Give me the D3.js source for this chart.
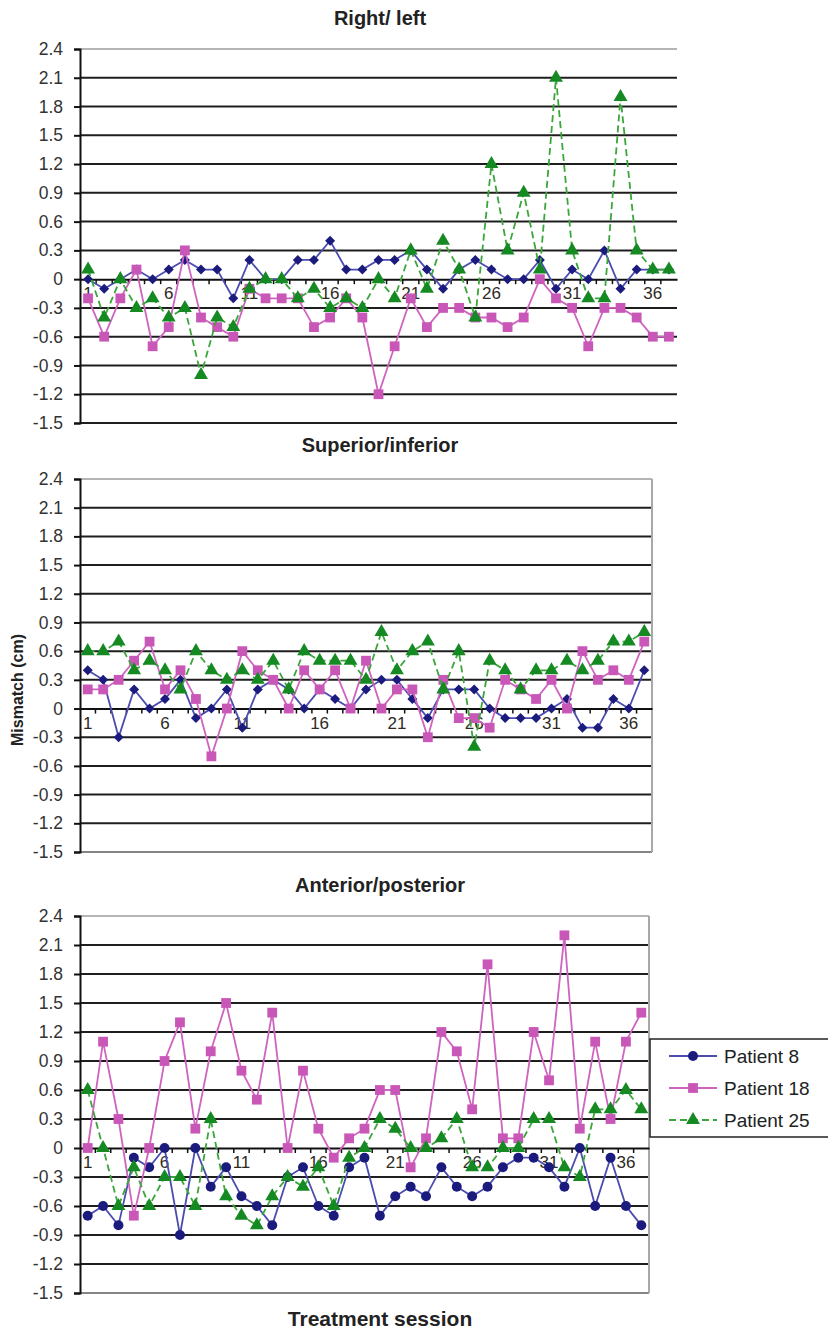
<!DOCTYPE html>
<html>
<head>
<meta charset="utf-8">
<script src="https://cdn.jsdelivr.net/npm/d3@7"></script>
<style>
  html, body { margin: 0; padding: 0; background: #fff; }
  svg { display: block; font-family: "Liberation Sans", Arial, sans-serif; }
</style>
</head>
<body>
<svg id="chart" width="828" height="1334"></svg>
<script>
// ---------- data ----------
const sessions = d3.range(1, 38);
const yTicks = [2.4, 2.1, 1.8, 1.5, 1.2, 0.9, 0.6, 0.3, 0, -0.3, -0.6, -0.9, -1.2, -1.5];
const xTickLabels = [1, 6, 11, 16, 21, 26, 31, 36];
const seriesNames = ["Patient 8", "Patient 18", "Patient 25"];
const panelTitles = ["Right/ left", "Superior/inferior", "Anterior/posterior"];

// Right / left
const rlPatient8  = [0,-0.1,0,0.1,0,0.1,0.2,0.1,0.1,-0.2,0.2,0,0,0.2,0.2,0.4,0.1,0.1,0.2,0.2,0.3,0.1,-0.1,0.1,0.2,0.1,0,0,0.2,-0.1,0.1,0,0.3,-0.1,0.1,0.1,0.1];
const rlPatient18 = [-0.2,-0.6,-0.2,0.1,-0.7,-0.5,0.3,-0.4,-0.5,-0.6,-0.1,-0.2,-0.2,-0.2,-0.5,-0.4,-0.2,-0.4,-1.2,-0.7,-0.2,-0.5,-0.3,-0.3,-0.4,-0.4,-0.5,-0.4,0,-0.2,-0.3,-0.7,-0.3,-0.3,-0.4,-0.6,-0.6];
const rlPatient25 = [0.1,-0.4,0,-0.3,-0.2,-0.4,-0.3,-1.0,-0.4,-0.5,-0.1,0,0,-0.2,-0.1,-0.3,-0.2,-0.3,0,-0.2,0.3,-0.1,0.4,0.1,-0.4,1.2,0.3,0.9,0.1,2.1,0.3,-0.2,-0.2,1.9,0.3,0.1,0.1];

// Superior / inferior
const siPatient8  = [0.4,0.3,-0.3,0.2,0,0.1,0.3,-0.1,0,0.2,-0.2,0.2,0.3,0.2,0,0.2,0.1,0,0.2,0.3,0.3,0.1,-0.1,0.2,0.2,0.2,0,-0.1,-0.1,-0.1,0,0.1,-0.2,-0.2,0.1,0,0.4];
const siPatient18 = [0.2,0.2,0.3,0.5,0.7,0.2,0.4,0.1,-0.5,0,0.6,0.4,0.3,0,0.4,0.2,0.4,0,0.5,0,0.2,0.2,-0.3,0.3,-0.1,-0.1,-0.2,0.3,0.2,0.1,0.3,0,0.6,0.3,0.4,0.3,0.7];
const siPatient25 = [0.6,0.6,0.7,0.4,0.5,0.4,0.2,0.6,0.4,0.3,0.4,0.3,0.5,0.2,0.6,0.5,0.5,0.5,0.3,0.8,0.4,0.6,0.7,0.2,0.6,-0.4,0.5,0.4,0.2,0.4,0.4,0.5,0.4,0.5,0.7,0.7,0.8];

// Anterior / posterior
const apPatient8  = [-0.7,-0.6,-0.8,-0.1,-0.2,0,-0.9,0,-0.4,-0.2,-0.5,-0.6,-0.8,-0.3,-0.2,-0.6,-0.7,-0.2,-0.1,-0.7,-0.5,-0.4,-0.5,-0.2,-0.4,-0.5,-0.4,-0.2,-0.1,-0.1,-0.2,-0.4,0,-0.6,-0.1,-0.6,-0.8];
const apPatient18 = [0,1.1,0.3,-0.7,0,0.9,1.3,0.2,1.0,1.5,0.8,0.5,1.4,0,0.8,0.2,-0.1,0.1,0.2,0.6,0.6,-0.2,0.1,1.2,1.0,0.4,1.9,0.1,0.1,1.2,0.7,2.2,0.2,1.1,0.3,1.1,1.4];
const apPatient25 = [0.6,0,-0.6,-0.2,-0.6,-0.3,-0.3,-0.6,0.3,-0.5,-0.7,-0.8,-0.5,-0.3,-0.4,-0.2,-0.6,-0.1,0,0.3,0.2,0,0,0.1,0.3,-0.2,-0.2,0,0,0.3,0.3,-0.2,-0.3,0.4,0.4,0.6,0.4];

// ---------- styles ----------
const styles = [
  { line: "#4b4bb0", fill: "#1b1b7e", dash: null },
  { line: "#cf63c0", fill: "#c957b8", dash: null },
  { line: "#3aa63a", fill: "#168a22", dash: "7,4" }
];

const panels = [
  { title: panelTitles[0], titleY: 25, top: 49, bottom: 423, left: 80, right: 677, border: false, p8Symbol: "diamond",
    data: [rlPatient8, rlPatient18, rlPatient25] },
  { title: panelTitles[1], titleY: 452, top: 479, bottom: 852, left: 80, right: 652, border: true, p8Symbol: "diamond",
    data: [siPatient8, siPatient18, siPatient25] },
  { title: panelTitles[2], titleY: 892, top: 916, bottom: 1293, left: 80, right: 649, border: true, p8Symbol: "circle",
    data: [apPatient8, apPatient18, apPatient25] }
];

const svg = d3.select("#chart");

function symbolPath(kind) {
  if (kind === "diamond") return d3.symbol().type(d3.symbolSquare).size(50)();
  if (kind === "circle") return d3.symbol().type(d3.symbolCircle).size(78)();
  if (kind === "square") return d3.symbol().type(d3.symbolSquare).size(96)();
  return d3.symbol().type(d3.symbolTriangle).size(84)();
}
function symbolRotate(kind) { return kind === "diamond" ? 45 : 0; }
const fmtTick = (d) => d === 0 ? "0" : d.toFixed(1);

panels.forEach((p) => {
  const g = svg.append("g");
  const y = d3.scaleLinear().domain([-1.5, 2.4]).range([p.bottom, p.top]);
  const x = d3.scaleBand().domain(sessions).range([p.left, p.right]).paddingInner(0).paddingOuter(0);
  const cx = (d) => x(d) + x.bandwidth() / 2;

  // title
  g.append("text").attr("x", 380).attr("y", p.titleY).attr("text-anchor", "middle")
    .attr("font-size", 20).attr("font-weight", "bold").attr("fill", "#222").text(p.title);

  // gridlines
  g.append("g").selectAll("line").data(yTicks.filter(t => t !== 0)).join("line")
    .attr("x1", p.left).attr("x2", p.right)
    .attr("y1", d => y(d)).attr("y2", d => y(d))
    .attr("stroke", d => d === 2.4 ? "#b5b5b5" : "#1e1e1e")
    .attr("stroke-width", 2);

  if (p.border) {
    g.append("line").attr("x1", p.right).attr("x2", p.right).attr("y1", p.top).attr("y2", p.bottom)
      .attr("stroke", "#a8a8a8").attr("stroke-width", 2);
    g.append("line").attr("x1", p.left).attr("x2", p.right).attr("y1", p.bottom).attr("y2", p.bottom)
      .attr("stroke", "#a8a8a8").attr("stroke-width", 1.5);
  }

  // y axis
  const yAxis = d3.axisLeft(y).tickValues(yTicks).tickSize(6).tickPadding(11).tickFormat(fmtTick);
  const ya = g.append("g").attr("transform", `translate(${p.left},0)`).call(yAxis);
  ya.select(".domain").attr("stroke", "#111").attr("stroke-width", 2);
  ya.selectAll(".tick line").attr("stroke", "#111").attr("stroke-width", 2);
  ya.selectAll(".tick text").attr("font-size", 17.5).attr("fill", "#333")
    .attr("font-family", "'Liberation Sans', Arial, sans-serif");

  // x axis at zero
  const xAxis = d3.axisBottom(x).tickSize(0).tickFormat(d => xTickLabels.includes(d) ? d : "");
  const xa = g.append("g").attr("transform", `translate(0,${y(0)})`).call(xAxis);
  xa.select(".domain").attr("stroke", "#111").attr("stroke-width", 2);
  xa.selectAll(".tick text").attr("font-size", 17).attr("fill", "#2e2a1e").attr("dy", "1.0em")
    .attr("font-family", "'Liberation Sans', Arial, sans-serif");
  // minor ticks at category boundaries
  xa.append("g").selectAll("line").data(sessions.slice(1)).join("line")
    .attr("x1", d => x(d)).attr("x2", d => x(d)).attr("y1", 0).attr("y2", 5)
    .attr("stroke", "#111").attr("stroke-width", 1.5);

  // series
  p.data.forEach((vals, si) => {
    const st = styles[si];
    const pts = sessions.map((s, i) => [cx(s), y(vals[i])]);
    g.append("path").attr("d", d3.line()(pts)).attr("fill", "none")
      .attr("stroke", st.line).attr("stroke-width", 1.8)
      .attr("stroke-dasharray", st.dash);
    const kind = si === 0 ? p.p8Symbol : (si === 1 ? "square" : "triangle");
    g.append("g").selectAll("path").data(pts).join("path")
      .attr("d", symbolPath(kind))
      .attr("transform", d => `translate(${d[0]},${d[1]}) rotate(${symbolRotate(kind)})`)
      .attr("fill", st.fill);
  });
});

// y-axis title
svg.append("text").attr("transform", "translate(23,690) rotate(-90)").attr("text-anchor", "middle")
  .attr("font-size", 16).attr("font-weight", "bold").attr("fill", "#222").text("Mismatch (cm)");

// x-axis title
svg.append("text").attr("x", 380).attr("y", 1326).attr("text-anchor", "middle")
  .attr("font-size", 21).attr("font-weight", "bold").attr("fill", "#222").text("Treatment session");

// legend
const lg = svg.append("g");
lg.append("rect").attr("x", 650).attr("y", 1039).attr("width", 190).attr("height", 98)
  .attr("fill", "#fff").attr("stroke", "#222").attr("stroke-width", 1.5);
const legendKinds = ["circle", "square", "triangle"];
seriesNames.forEach((name, i) => {
  const yy = 1056 + i * 32;
  const st = styles[i];
  lg.append("line").attr("x1", 669).attr("x2", 717).attr("y1", yy).attr("y2", yy)
    .attr("stroke", st.line).attr("stroke-width", 1.8).attr("stroke-dasharray", st.dash);
  lg.append("path").attr("d", symbolPath(legendKinds[i])).attr("transform", `translate(693,${yy})`)
    .attr("fill", st.fill);
  lg.append("text").attr("x", 724).attr("y", yy).attr("dy", "0.35em").attr("font-size", 19)
    .attr("fill", "#222").text(name);
});
</script>
</body>
</html>
